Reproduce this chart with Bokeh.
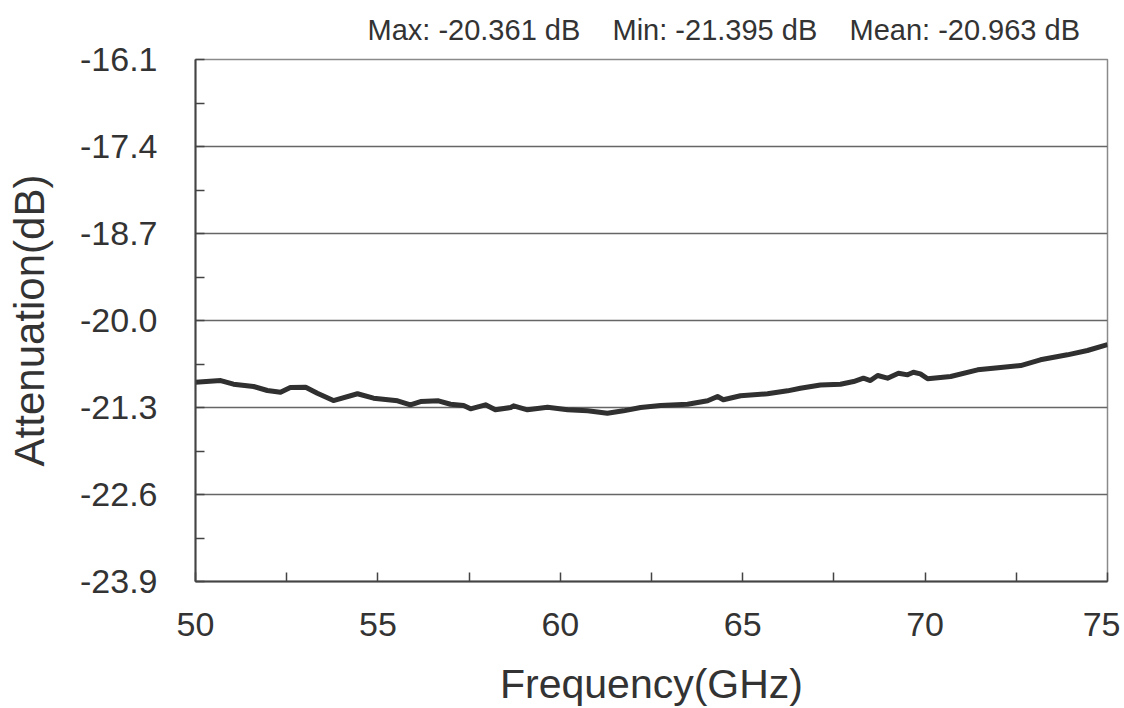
from bokeh.plotting import figure
from bokeh.models import FixedTicker, PrintfTickFormatter, Title, Range1d
from bokeh.embed import file_html
from bokeh.resources import INLINE

# Frequency (GHz) and attenuation (dB)
freq = [50.00, 50.69, 51.04, 51.59, 51.97, 52.33, 52.60, 53.02, 53.34, 53.78,
        54.44, 54.88, 55.54, 55.89, 56.17, 56.66, 56.99, 57.35, 57.54, 57.95,
        58.22, 58.64, 58.72, 59.10, 59.65, 60.20, 60.75, 61.29, 61.73, 62.20,
        62.75, 63.49, 64.04, 64.31, 64.47, 64.94, 65.68, 66.23, 66.58, 67.13,
        67.68, 68.04, 68.31, 68.50, 68.70, 68.97, 69.27, 69.52, 69.68, 69.87,
        70.07, 70.70, 71.44, 72.07, 72.62, 73.16, 73.90, 74.45, 75.00]
atten = [-20.922, -20.897, -20.952, -20.986, -21.046, -21.072, -21.001, -20.997, -21.087, -21.196,
         -21.095, -21.161, -21.200, -21.260, -21.211, -21.200, -21.251, -21.270, -21.320, -21.260,
         -21.335, -21.300, -21.275, -21.335, -21.296, -21.335, -21.350, -21.385, -21.350, -21.300,
         -21.270, -21.251, -21.200, -21.136, -21.185, -21.125, -21.095, -21.051, -21.012, -20.964,
         -20.952, -20.912, -20.862, -20.897, -20.822, -20.862, -20.788, -20.812, -20.773, -20.797,
         -20.871, -20.837, -20.737, -20.702, -20.673, -20.587, -20.513, -20.448, -20.361]

x_ticks = [50, 55, 60, 65, 70, 75]
x_minor = [52.5, 57.5, 62.5, 67.5, 72.5]
y_ticks = [-23.9, -22.6, -21.3, -20.0, -18.7, -17.4, -16.1]
y_minor = [-23.25, -21.95, -20.65, -19.35, -18.05, -16.75]
stats_text = "Max: -20.361 dB\u00a0\u00a0\u00a0\u00a0Min: -21.395 dB\u00a0\u00a0\u00a0\u00a0Mean: -20.963 dB"

FONT = "Liberation Sans"
TXT = "#333333"

p = figure(width=1120, height=704, output_backend="svg", toolbar_location=None,
           frame_width=912, frame_height=522,
           min_border_left=195, min_border_right=13, min_border_top=58, min_border_bottom=124,
           x_range=Range1d(50, 75), y_range=Range1d(-23.9, -16.1))

p.background_fill_color = "white"
p.border_fill_color = "white"
p.outline_line_color = "#8a8a8a"
p.outline_line_width = 1.5

p.line(freq, atten, line_color="#303030", line_width=5, line_join="round")

t = Title(text=stats_text, align="left", offset=172, text_font=FONT,
          text_font_size="29px", text_font_style="normal", text_color=TXT,
          vertical_align="middle", standoff=25)
p.add_layout(t, "above")

xa = p.xaxis[0]
xa.ticker = FixedTicker(ticks=x_ticks, minor_ticks=x_minor)
xa.formatter = PrintfTickFormatter(format="%d")
ya = p.yaxis[0]
ya.ticker = FixedTicker(ticks=y_ticks, minor_ticks=y_minor)
ya.formatter = PrintfTickFormatter(format="%.1f")

for ax in (xa, ya):
    ax.axis_line_color = "#444444"
    ax.axis_line_width = 2
    ax.major_tick_in = 9
    ax.major_tick_out = 0
    ax.minor_tick_in = 9
    ax.minor_tick_out = 0
    ax.major_tick_line_color = "#444444"
    ax.minor_tick_line_color = "#444444"
    ax.major_tick_line_width = 1.5
    ax.minor_tick_line_width = 1.5
    ax.major_label_text_font = FONT
    ax.major_label_text_font_size = "34px"
    ax.major_label_text_color = TXT
    ax.axis_label_text_font = FONT
    ax.axis_label_text_font_style = "normal"
    ax.axis_label_text_color = TXT

xa.axis_label = "Frequency(GHz)"
xa.axis_label_text_font_size = "41px"
xa.major_label_standoff = 31
xa.axis_label_standoff = 22
ya.axis_label = "Attenuation(dB)"
ya.axis_label_text_font_size = "42px"
ya.major_label_standoff = 38
ya.axis_label_standoff = 24

p.xgrid.visible = False
p.ygrid[0].ticker = FixedTicker(ticks=y_ticks)
p.ygrid.grid_line_color = "#666666"
p.ygrid.grid_line_width = 1.5

open("out.html", "w").write(file_html(p, INLINE))
